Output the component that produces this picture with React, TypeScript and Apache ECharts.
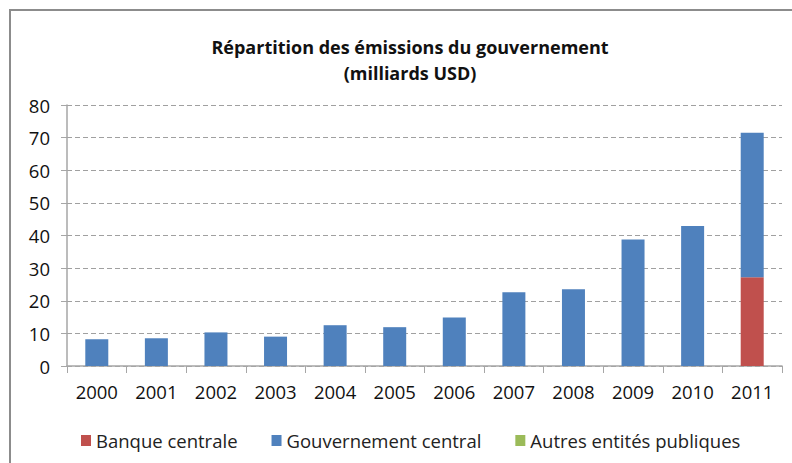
import React, { useEffect, useRef } from "react";
import * as echarts from "echarts";

const years = ["2000", "2001", "2002", "2003", "2004", "2005", "2006", "2007", "2008", "2009", "2010", "2011"];
const banqueCentrale = [0, 0, 0, 0, 0, 0, 0, 0, 0, 0, 0, 27.2];
const gouvernementCentral = [8.2, 8.5, 10.3, 9.0, 12.5, 11.9, 14.9, 22.6, 23.5, 38.8, 42.9, 44.3];
const autresEntites = [0, 0, 0, 0, 0, 0, 0, 0, 0, 0, 0, 0];

const FONT = "'Open Sans', 'Noto Sans', sans-serif";

export default function App() {
  const ref = useRef<HTMLDivElement>(null);
  useEffect(() => {
    if (!ref.current) return;
    const chart = echarts.init(ref.current, null, { renderer: "svg" });
    chart.setOption({
      animation: false,
      backgroundColor: "#ffffff",
      title: {
        text: "Répartition des émissions du gouvernement\n(milliards USD)",
        left: 405,
        textAlign: "center",
        top: 29,
        textStyle: {
          fontFamily: FONT,
          fontSize: 18,
          fontWeight: "bold",
          color: "#111",
          lineHeight: 26,
        },
      },
      legend: {
        left: 76,
        top: 426,
        itemWidth: 10,
        itemHeight: 11,
        itemGap: 34,
        icon: "rect",
        textStyle: { fontFamily: FONT, fontSize: 18.5, color: "#222" },
        data: ["Banque centrale", "Gouvernement central", "Autres entités publiques"],
      },
      grid: { left: 67, right: 10, top: 105, bottom: 97, containLabel: false },
      xAxis: {
        type: "category",
        data: years,
        axisLine: { lineStyle: { color: "#a6a6a6", width: 1.5 } },
        axisTick: { show: true, length: 7, lineStyle: { color: "#a6a6a6" } },
        axisLabel: { fontFamily: FONT, fontSize: 18.5, color: "#111", margin: 16 },
      },
      yAxis: {
        type: "value",
        min: 0,
        max: 80,
        interval: 10,
        axisLine: { show: true, lineStyle: { color: "#a6a6a6", width: 1.5 } },
        axisTick: { show: true, length: 6, lineStyle: { color: "#a6a6a6" } },
        axisLabel: { fontFamily: FONT, fontSize: 18.5, color: "#111", margin: 17 },
        splitLine: { show: true, lineStyle: { color: "#a0a0a0", type: [5, 3], width: 1 } },
      },
      series: [
        {
          name: "Banque centrale",
          type: "bar",
          stack: "total",
          barWidth: 23,
          data: banqueCentrale,
          itemStyle: { color: "#C0504D" },
        },
        {
          name: "Gouvernement central",
          type: "bar",
          stack: "total",
          barWidth: 23,
          data: gouvernementCentral,
          itemStyle: { color: "#4F81BD" },
        },
        {
          name: "Autres entités publiques",
          type: "bar",
          stack: "total",
          barWidth: 23,
          data: autresEntites,
          itemStyle: { color: "#9BBB59" },
        },
      ],
      graphic: [
        {
          type: "rect",
          shape: { x: 10, y: 10, width: 800, height: 480 },
          style: { fill: "none", stroke: "#8c8c8c", lineWidth: 2 },
          silent: true,
          z: 100,
        },
      ],
    });
    return () => chart.dispose();
  }, []);
  return (
    <div
      ref={ref}
      style={{ position: "fixed", left: 0, top: 0, width: 792, height: 463 }}
    />
  );
}
